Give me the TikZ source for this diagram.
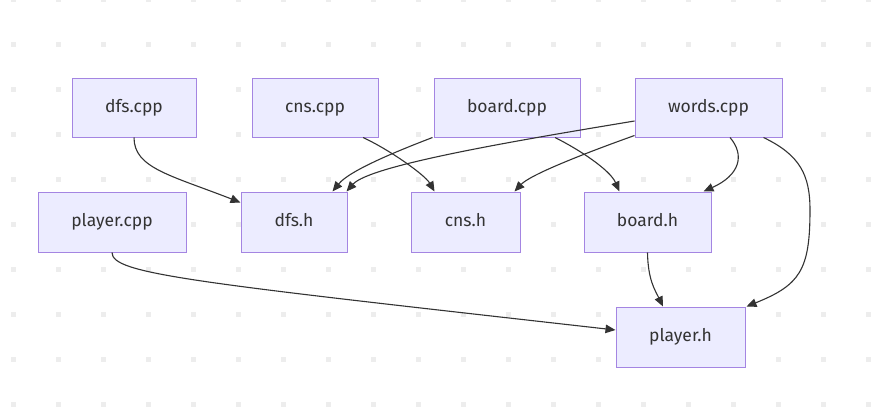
\documentclass[tikz,border=0pt]{standalone}
\usepackage{fontspec}
\setmainfont{Fira Sans}
\usetikzlibrary{arrows.meta,calc}
\definecolor{boxfill}{HTML}{ECECFF}
\definecolor{boxline}{HTML}{A485E2}
\definecolor{edgecol}{HTML}{333333}
\definecolor{dotcol}{HTML}{EDEDED}
\tikzset{
  file/.style={draw=boxline, fill=boxfill, line width=1pt, rectangle,
    minimum height=59pt, inner sep=0pt, text=edgecol,
    text height=13pt, text depth=4pt,
    font=\fontsize{17.5}{20}\selectfont},
  edge/.style={draw=edgecol, line width=1.1pt, -{Triangle[length=10pt,width=8.5pt]}},
}
\begin{document}
\begin{tikzpicture}[x=1pt,y=-1pt]
\useasboundingbox (0,0) rectangle (879,408);
\fill[white] (0,0) rectangle (879,408);
\foreach \i in {0,...,19}{
  \foreach \j in {0,...,9}{
    \fill[dotcol] ({13+45*\i-2.5},{-1+45*\j-2.5}) rectangle ++(5,5);
  }
}
\node[file, minimum width=124pt] (dfscpp) at (134,107.5) {dfs.cpp};
\node[file, minimum width=126pt] (cnscpp) at (315,107.5) {cns.cpp};
\node[file, minimum width=146pt] (boardcpp) at (507,107.5) {board.cpp};
\node[file, minimum width=147pt] (wordscpp) at (708.5,107.5) {words.cpp};
\node[file, minimum width=148pt, minimum height=60pt] (playercpp) at (112,222) {player.cpp};
\node[file, minimum width=106pt, minimum height=60pt] (dfsh) at (294,222) {dfs.h};
\node[file, minimum width=109pt, minimum height=60pt] (cnsh) at (465.5,222) {cns.h};
\node[file, minimum width=127pt, minimum height=60pt] (boardh) at (647.5,222) {board.h};
\node[file, minimum width=129pt, minimum height=60pt] (playerh) at (680.5,337) {player.h};

\draw[edge] (dfscpp.south) .. controls (134,168) and (170,175) .. ($(dfsh.north west)+(0,11)$);
\draw[edge] ($(cnscpp.south)+(48,0)$) .. controls (390,150) and (425,175) .. ($(cnsh.north west)+(24,0)$);
\draw[edge] ($(boardcpp.south west)+(-1,0)$) .. controls (400,150) and (350,170) .. ($(dfsh.north west)+(92,0)$);
\draw[edge] ($(wordscpp.west)+(0,13.5)$) .. controls (520,140) and (370,165) .. ($(dfsh.north east)+(-1,0)$);
\draw[edge] ($(wordscpp.south west)+(0,-2)$) .. controls (580,155) and (530,175) .. ($(cnsh.north east)+(-6,0)$);
\draw[edge] ($(boardcpp.south)+(48,0)$) .. controls (580,150) and (610,170) .. ($(boardh.north west)+(36,0)$);
\draw[edge] ($(wordscpp.south)+(21.5,0)$) .. controls (745,155) and (740,175) .. ($(boardh.north east)+(-8,0)$);
\draw[edge] ($(wordscpp.south east)+(-19,0)$) .. controls (800,155) and (810,175) .. (810,210) .. controls (810,270) and (800,285) .. ($(playerh.north east)+(1,0)$);
\draw[edge] (boardh.south) .. controls (648,280) and (655,290) .. ($(playerh.north)+(-17.5,0)$);
\draw[edge] (playercpp.south) .. controls (112,274) and (190,282) .. ($(playerh.west)+(0,-7)$);
\end{tikzpicture}
\end{document}
